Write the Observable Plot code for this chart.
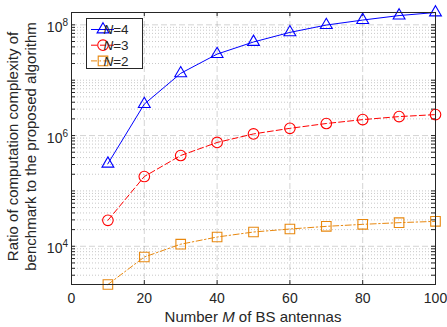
<!DOCTYPE html>
<html><head><meta charset="utf-8">
<script src="https://cdn.jsdelivr.net/npm/d3@7"></script>
<script src="https://cdn.jsdelivr.net/npm/@observablehq/plot@0.6"></script>
<style>
body{margin:0;background:#fff}
svg{font-family:"Liberation Sans",Arial,Helvetica,sans-serif}
</style>
</head><body><div id="chart"></div>
<script>
// ---- data ----
const M = [10, 20, 30, 40, 50, 60, 70, 80, 90, 100];
const N4 = [3.1e5, 3.7e6, 1.33e7, 2.96e7, 4.9e7, 7.3e7, 9.9e7, 1.22e8, 1.47e8, 1.67e8];
const N3 = [2.94e4, 1.82e5, 4.36e5, 7.5e5, 1.07e6, 1.35e6, 1.65e6, 1.94e6, 2.2e6, 2.39e6];
const N2 = [2040, 6400, 1.09e4, 1.47e4, 1.81e4, 2.05e4, 2.29e4, 2.49e4, 2.67e4, 2.82e4];
const seriesNames = ["4", "3", "2"];
const seriesColors = ["#0000ff", "#ff0000", "#e8880f"];
const seriesDash = [null, "6,3", "6,2.5,1.5,2.5"];
const seriesSymbols = ["triangle", "circle", "square"];
const seriesR = [4.4, 5.3, 5.4];
const xTicks = [0, 20, 40, 60, 80, 100];
const xGrid = [20, 40, 60, 80];
const yMajor = [1e4, 1e6, 1e8];
const yMajorExp = ["4", "6", "8"];
const xLabel = ["Number ", "M", " of BS antennas"];
const yLabel = ["Ratio of computation complexity of", "benchmark to the proposed algorithm"];

const values = [N4, N3, N2];
const rows = [];
values.forEach((vals, i) => M.forEach((m, j) => rows.push({series: seriesNames[i], M: m, v: vals[j]})));

const W = 447, H = 327, mt = 12, mr = 12, mb = 43, ml = 71;
const fw = W - ml - mr, fh = H - mt - mb;
const yDomain = d3.extent(rows, d => d.v);

// minor log grid positions
const yMinor = [];
for (let k = 3; k <= 8; k++) for (let m = 1; m <= 9; m++) {
  const v = m * Math.pow(10, k);
  if (v >= yDomain[0] && v <= yDomain[1] && !yMajor.includes(v)) yMinor.push(v);
}
const ink = "#262626";

const marks = [
  Plot.ruleY(yMinor, {stroke: ink, strokeOpacity: 0.25, strokeDasharray: "1,2"}),
  Plot.ruleY(yMajor, {stroke: ink, strokeOpacity: 0.2, strokeDasharray: "6,3"}),
  Plot.ruleX(xGrid, {stroke: ink, strokeOpacity: 0.2, strokeDasharray: "6,3"}),
  // inward ticks
  Plot.ruleY(yMajor.concat(yMinor), {stroke: ink, insetRight: fw - 4}),
  Plot.ruleY(yMajor.concat(yMinor), {stroke: ink, insetLeft: fw - 4}),
  Plot.ruleX(xTicks, {stroke: ink, insetTop: fh - 4}),
  Plot.ruleX(xTicks, {stroke: ink, insetBottom: fh - 4}),
  Plot.axisX(xTicks, {tickSize: 0, tickPadding: 9, fontSize: 14, label: null})
];
seriesNames.forEach((s, i) => {
  const data = rows.filter(d => d.series === s);
  marks.push(Plot.line(data, {x: "M", y: "v", stroke: seriesColors[i], strokeWidth: 1,
    strokeDasharray: seriesDash[i] || undefined}));
});
seriesNames.forEach((s, i) => {
  const data = rows.filter(d => d.series === s);
  marks.push(Plot.dot(data, {x: "M", y: "v", symbol: seriesSymbols[i], r: seriesR[i],
    stroke: seriesColors[i], fill: "none", strokeWidth: 1.1}));
});
marks.push(Plot.frame({stroke: ink, strokeWidth: 1}));

const plot = Plot.plot({
  width: W, height: H,
  marginTop: mt, marginRight: mr, marginBottom: mb, marginLeft: ml,
  style: {background: "#fff", color: ink, fontSize: "14px", fontFamily: '"Liberation Sans", Arial, sans-serif'},
  x: {domain: [0, 100], axis: null},
  y: {type: "log", domain: yDomain, axis: null},
  marks
});
document.getElementById("chart").append(plot);

const svg = d3.select(plot);
const ys = plot.scale("y");

// y tick labels 10^k
yMajor.forEach((v, i) => {
  const y = ys.apply(v);
  const t = svg.append("text").attr("x", ml - 3).attr("y", y + 7.5)
    .attr("text-anchor", "end").attr("fill", ink).attr("font-size", 14);
  t.append("tspan").text("10");
  t.append("tspan").attr("dy", -6).attr("font-size", 10).text(yMajorExp[i]);
});

// x label
const xl = svg.append("text").attr("x", ml + fw / 2).attr("y", 322)
  .attr("text-anchor", "middle").attr("fill", ink).attr("font-size", 15);
xl.append("tspan").text(xLabel[0]);
xl.append("tspan").attr("font-style", "italic").text(xLabel[1]);
xl.append("tspan").text(xLabel[2]);

// y label (two lines)
const ycy = 146.5;
[18, 36].forEach((bx, i) => {
  svg.append("text").attr("transform", `translate(${bx},${ycy}) rotate(-90)`)
    .attr("text-anchor", "middle").attr("fill", ink).attr("font-size", 15).text(yLabel[i]);
});

// legend
const lg = svg.append("g");
lg.append("rect").attr("x", 86.5).attr("y", 18.5).attr("width", 56).attr("height", 50)
  .attr("fill", "#fff").attr("stroke", ink).attr("stroke-width", 1);
const symbolMap = {triangle: d3.symbolTriangle, circle: d3.symbolCircle, square: d3.symbolSquare};
seriesNames.forEach((s, i) => {
  const y = 29.5 + i * 15.7;
  lg.append("line").attr("x1", 91).attr("x2", 114).attr("y1", y).attr("y2", y)
    .attr("stroke", seriesColors[i]).attr("stroke-width", 1)
    .attr("stroke-dasharray", seriesDash[i] || null);
  lg.append("path").attr("transform", `translate(103,${y})`)
    .attr("d", d3.symbol(symbolMap[seriesSymbols[i]], Math.PI * seriesR[i] * seriesR[i])())
    .attr("fill", "none").attr("stroke", seriesColors[i]).attr("stroke-width", 1.1);
  const t = lg.append("text").attr("x", 116).attr("y", y + 4.8).attr("fill", ink).attr("font-size", 13.5);
  t.append("tspan").attr("font-style", "italic").text("N");
  t.append("tspan").text("=" + s);
});
</script>
</body></html>
